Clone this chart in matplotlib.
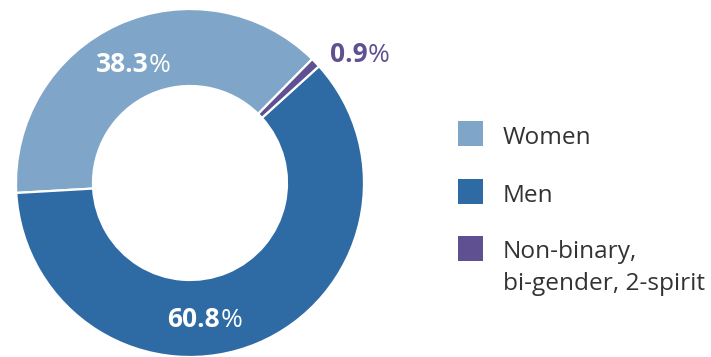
import matplotlib.pyplot as plt
from matplotlib.patches import Rectangle

plt.rcParams['font.family'] = ['Open Sans', 'DejaVu Sans']

# share of respondents by gender
labels = ['Women', 'Men', 'Non-binary,\nbi-gender, 2-spirit']
values = [38.3, 60.8, 0.9]
colors = ['#7fa6c8', '#2e6ba4', '#5f5092']
label_colors = ['white', 'white', '#5f5092']

W, H = 711, 357
fig = plt.figure(figsize=(W / 100, H / 100), dpi=100)
ax = fig.add_axes([0, 0, 1, 1])

cx, cy, R = 190, H - 183, 174
ax.pie(values, colors=colors, startangle=45.4, counterclock=True,
       center=(cx, cy), radius=R,
       wedgeprops=dict(width=77, edgecolor='white', linewidth=1.6))
ax.set_xlim(0, W)
ax.set_ylim(0, H)
ax.set_aspect('equal')
ax.axis('off')

# value labels: bold number followed by a regular-weight percent sign
label_pos = [(148.5, H - 72), (220, H - 327), (367.5, H - 62)]
for v, (x, y), c in zip(values, label_pos, label_colors):
    ax.text(x, y, f'{v:.1f}', ha='right', va='baseline', fontsize=19,
            fontweight='bold', color=c)
    ax.text(x + 0.5, y, '%', ha='left', va='baseline', fontsize=19, color=c)

# legend
box = 25
rows = [133.5, 191.5, 248.5]
baselines = [144, 202, 258]
line_gap = 32
for lab, col, yc, yb in zip(labels, colors, rows, baselines):
    ax.add_patch(Rectangle((458, H - yc - box / 2), box, box,
                           facecolor=col, edgecolor='none'))
    for i, line in enumerate(lab.split('\n')):
        ax.text(503, H - yb - i * line_gap, line, ha='left', va='baseline',
                fontsize=17.6, color='#333333')

fig.savefig('out.png', dpi=100)
